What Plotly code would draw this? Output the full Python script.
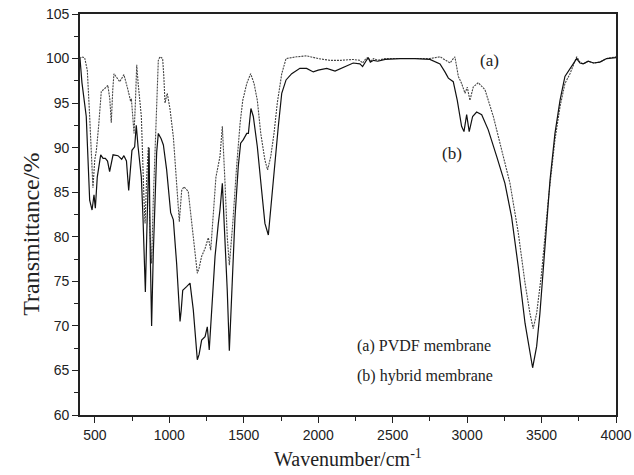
import plotly.graph_objects as go

# ---- data: wavenumber (cm^-1) and transmittance (%) ----
wn_a = [400, 409, 431, 449, 465, 481, 487, 499, 510, 525, 543, 577, 587, 600, 610, 620, 628, 667, 695,
        722, 740, 745, 763, 772, 781, 790, 812, 830, 837, 848, 859, 870, 881, 892, 904, 915, 926, 937,
        955, 963, 971, 986, 1004, 1027, 1049, 1067, 1083, 1098, 1127, 1150, 1172, 1188, 1200, 1217,
        1240, 1262, 1278, 1291, 1313, 1340, 1356, 1374, 1389, 1403, 1426, 1452, 1475, 1493, 1520, 1546,
        1569, 1591, 1614, 1642, 1660, 1681, 1703, 1725, 1755, 1784, 1855, 1922, 2000, 2079, 2150, 2234,
        2280, 2298, 2320, 2336, 2350, 2372, 2400, 2450, 2550, 2650, 2750, 2818, 2863, 2886, 2903, 2918,
        2941, 2963, 2986, 3001, 3019, 3041, 3075, 3120, 3176, 3232, 3288, 3344, 3389, 3422, 3444, 3467,
        3500, 3545, 3590, 3624, 3657, 3691, 3736, 3758, 3780, 3813, 3850, 3892, 3937, 4000]
t_a = [100.0, 100.2, 100.1, 98.7, 93.5, 88.6, 85.5, 88.6, 89.7, 92.4, 96.3, 96.8, 97.0, 95.5, 92.8, 96.5,
       98.3, 97.4, 98.2, 96.5, 95.2, 95.5, 91.6, 95.0, 99.3, 97.3, 93.5, 84.1, 81.5, 86.7, 90.1, 80.4,
       77.0, 84.0, 89.7, 96.0, 99.8, 100.2, 100.0, 98.0, 95.0, 96.1, 94.4, 91.2, 86.4, 81.7, 85.2, 85.6,
       85.1, 81.5, 77.8, 75.9, 76.5, 77.8, 78.7, 79.9, 78.5, 81.5, 86.7, 89.0, 92.4, 86.0, 80.0, 76.8,
       81.5, 87.9, 92.7, 95.3, 97.2, 98.3, 97.2, 95.3, 91.6, 88.6, 87.5, 89.0, 91.6, 95.0, 98.3, 100.0,
       100.2, 100.3, 100.0, 99.8, 99.8, 99.9, 99.8, 99.5, 100.0, 100.1, 99.7, 100.0, 99.8, 100.0, 100.0,
       100.0, 100.0, 100.2, 99.8, 99.5, 99.9, 100.2, 98.0, 97.2, 96.1, 96.8, 95.3, 96.8, 97.3, 96.5,
       93.5, 89.7, 86.0, 80.4, 74.8, 71.4, 69.7, 71.4, 75.9, 84.1, 90.9, 94.6, 97.2, 98.3, 100.2, 99.6,
       99.4, 99.7, 99.5, 99.6, 100.0, 100.2]

wn_b = [400, 413, 442, 465, 481, 494, 503, 516, 539, 555, 570, 585, 599, 612, 622, 655, 680, 695, 712,
        727, 740, 749, 767, 778, 790, 812, 823, 839, 848, 857, 864, 872, 881, 892, 904, 915, 926, 945,
        960, 982, 1009, 1027, 1049, 1060, 1072, 1080, 1090, 1116, 1139, 1161, 1179, 1188, 1200, 1217,
        1240, 1255, 1268, 1284, 1307, 1329, 1340, 1356, 1374, 1389, 1403, 1419, 1441, 1463, 1479, 1497,
        1520, 1531, 1548, 1564, 1591, 1620, 1642, 1665, 1687, 1710, 1732, 1755, 1784, 1822, 1877, 1922,
        1967, 2000, 2057, 2113, 2170, 2235, 2280, 2298, 2320, 2336, 2350, 2372, 2400, 2450, 2550, 2650,
        2750, 2818, 2851, 2874, 2907, 2934, 2963, 2979, 2997, 3014, 3037, 3064, 3098, 3142, 3199, 3254,
        3299, 3344, 3389, 3418, 3440, 3467, 3489, 3523, 3557, 3590, 3624, 3657, 3702, 3736, 3758, 3780,
        3813, 3850, 3892, 3937, 4000]
t_b = [100.0, 97.3, 93.5, 84.1, 83.0, 84.7, 83.2, 86.7, 89.2, 88.8, 88.8, 88.5, 87.3, 88.5, 89.2, 89.1,
       88.7, 89.1, 88.5, 85.2, 88.0, 89.7, 90.1, 92.5, 90.1, 86.7, 82.2, 73.8, 80.0, 86.0, 90.0, 78.0,
       70.0, 78.0, 85.0, 89.5, 91.6, 91.0, 90.3, 87.5, 82.7, 81.9, 77.0, 73.5, 70.5, 71.8, 74.0, 74.4,
       74.8, 71.8, 67.3, 66.2, 66.8, 68.4, 68.8, 69.9, 67.3, 71.4, 77.8, 81.5, 83.0, 86.0, 80.0, 74.0,
       67.2, 74.0, 82.2, 87.9, 90.5, 90.9, 91.6, 91.6, 94.4, 93.5, 90.1, 85.2, 81.5, 80.2, 84.5, 88.6,
       92.4, 96.1, 97.6, 98.3, 98.9, 98.9, 98.5, 98.7, 98.9, 98.6, 99.0, 99.5, 99.4, 99.1, 99.7, 100.1,
       99.6, 99.8, 99.7, 99.9, 100.0, 100.0, 99.9, 99.4, 98.5, 97.8, 97.4, 95.3, 92.4, 91.8, 93.7, 91.8,
       93.5, 94.0, 93.7, 92.0, 89.0, 86.0, 82.2, 76.6, 70.3, 67.3, 65.3, 67.7, 71.4, 78.9, 86.4, 91.6,
       95.3, 98.0, 99.1, 100.0, 99.5, 99.4, 99.7, 99.5, 99.6, 100.0, 100.1]

x_ticks = [500, 1000, 1500, 2000, 2500, 3000, 3500, 4000]
y_ticks = [60, 65, 70, 75, 80, 85, 90, 95, 100, 105]

SERIF = "Liberation Serif, Times New Roman, serif"
SANS = "Liberation Sans, Arial, sans-serif"

fig = go.Figure()
fig.add_trace(go.Scatter(x=wn_a, y=t_a, mode="lines", name="(a) PVDF membrane",
                         line=dict(color="#444444", width=1.1, dash="2px,1px")))
fig.add_trace(go.Scatter(x=wn_b, y=t_b, mode="lines", name="(b) hybrid membrane",
                         line=dict(color="#111111", width=1.2)))

axis_common = dict(showline=True, linecolor="#222222", linewidth=1.6, mirror=True,
                   ticks="outside", ticklen=6, tickwidth=1.3, tickcolor="#222222",
                   showgrid=False, zeroline=False, automargin=False,
                   ticklabeloverflow="allow",
                   tickfont=dict(family=SANS, size=14, color="#222222"))

fig.update_xaxes(range=[400, 4000], tickvals=x_ticks, ticktext=[str(v) for v in x_ticks],
                 minor=dict(ticks="outside", ticklen=4, tickwidth=1.2, tickcolor="#222222",
                            dtick=250, tick0=0),
                 **axis_common)
fig.update_yaxes(range=[60, 105], tickvals=y_ticks, ticktext=[str(v) for v in y_ticks],
                 minor=dict(ticks="outside", ticklen=4, tickwidth=1.2, tickcolor="#222222",
                            dtick=2.5, tick0=0),
                 **axis_common)

annos = [
    dict(x=3153, y=99.8, xref="x", yref="y", text="(a)", showarrow=False,
         font=dict(family=SERIF, size=17, color="#222222")),
    dict(x=2898, y=89.4, xref="x", yref="y", text="(b)", showarrow=False,
         font=dict(family=SERIF, size=17, color="#222222")),
    dict(x=2250, y=67.7, xref="x", yref="y", text="(a) PVDF membrane", showarrow=False,
         xanchor="left", font=dict(family=SERIF, size=16, color="#222222")),
    dict(x=2250, y=64.4, xref="x", yref="y", text="(b) hybrid membrane", showarrow=False,
         xanchor="left", font=dict(family=SERIF, size=16, color="#222222")),
    dict(x=0.5, y=-0.107, xref="paper", yref="paper", text="Wavenumber/cm<sup>-1</sup>",
         showarrow=False, yanchor="middle", font=dict(family=SERIF, size=20, color="#222222")),
    dict(x=-0.093, y=0.45, xref="paper", yref="paper", text="Transmittance/%", textangle=-90,
         showarrow=False, xanchor="center", yanchor="middle",
         font=dict(family=SERIF, size=24, color="#222222")),
]

fig.update_layout(width=634, height=475, margin=dict(l=80, r=18, t=14, b=60),
                  paper_bgcolor="white", plot_bgcolor="white", showlegend=False,
                  annotations=annos)

# remove the page's default 8px body margin so the figure sits at the window origin
fig.write_html("out.html", config={"displayModeBar": False},
               post_script="document.body.style.margin='0';document.body.style.overflow='hidden';")
